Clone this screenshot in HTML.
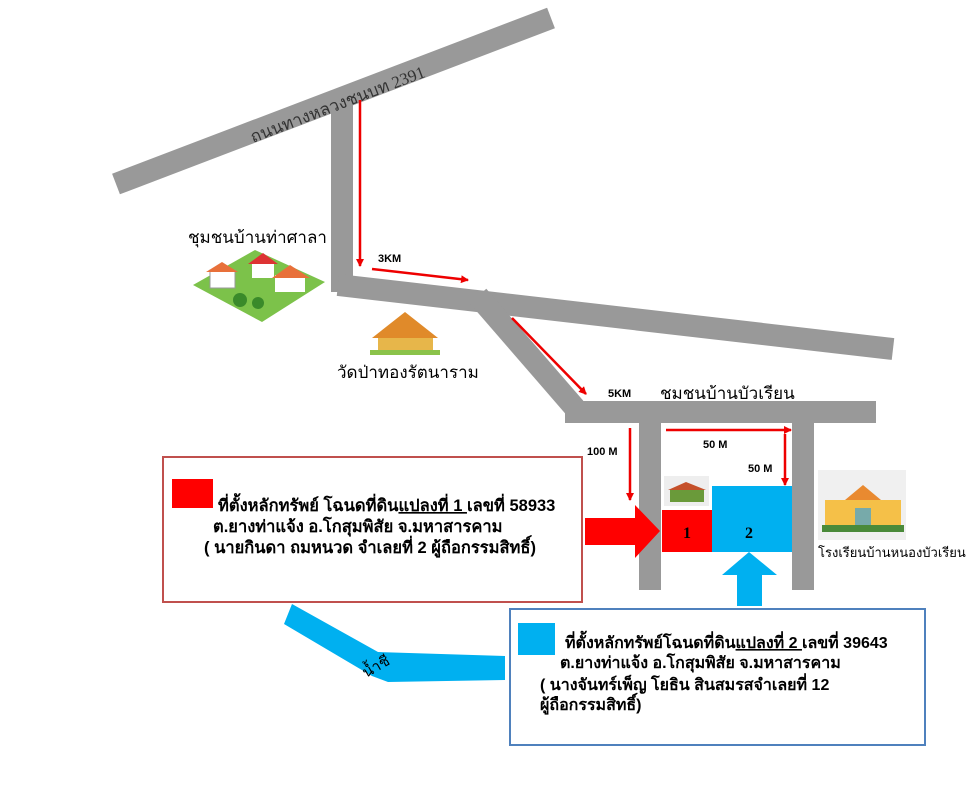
<!DOCTYPE html><html><head><meta charset="utf-8"><style>body{margin:0;background:#fff}svg{display:block;font-family:"Liberation Sans","DejaVu Sans",sans-serif}</style></head><body>
<svg width="975" height="800" viewBox="0 0 975 800">
<g stroke="#999" stroke-width="22" fill="none" stroke-linecap="butt">
<line x1="116" y1="184" x2="551" y2="18"/>
<line x1="342" y1="97" x2="342" y2="292"/>
<line x1="338" y1="285" x2="893" y2="349"/>
<line x1="478" y1="296" x2="575" y2="408"/>
<line x1="565" y1="412" x2="876" y2="412"/>
<line x1="650" y1="412" x2="650" y2="590"/>
<line x1="803" y1="412" x2="803" y2="590"/>
</g>
<text x="0" y="0" transform="translate(253,143) rotate(-21)" font-family="Liberation Serif,serif" font-size="17" fill="#333">ถนนทางหลวงชนบท 2391</text>
<defs><marker id="a" markerWidth="8" markerHeight="8" refX="7" refY="4" orient="auto" markerUnits="userSpaceOnUse"><path d="M0,0L8,4L0,8z" fill="#e00"/></marker></defs>
<g stroke="#e00" stroke-width="2.5" marker-end="url(#a)">
<line x1="360" y1="100" x2="360" y2="266"/>
<line x1="372" y1="269" x2="468" y2="280"/>
<line x1="512" y1="318" x2="586" y2="394"/>
<line x1="630" y1="428" x2="630" y2="500"/>
<line x1="666" y1="430" x2="791" y2="430"/>
<line x1="785" y1="434" x2="785" y2="485"/>
</g>
<g font-size="11" font-weight="bold" fill="#000">
<text x="378" y="262">3KM</text><text x="608" y="397">5KM</text><text x="587" y="455">100 M</text><text x="703" y="448">50 M</text><text x="748" y="472">50 M</text></g>
<text x="660" y="399" font-size="17" fill="#000">ชมชนบ้านบัวเรียน</text>
<text x="188" y="243" font-size="17" fill="#000">ชุมชนบ้านท่าศาลา</text>
<text x="337" y="378" font-size="17" fill="#000">วัดป่าทองรัตนาราม</text>
<text x="818" y="557" font-size="13" fill="#000">โรงเรียนบ้านหนองบัวเรียน</text>
<polygon points="193,285 255,250 325,282 262,322" fill="#7cc24a"/>
<rect x="210" y="270" width="25" height="18" fill="#fff" stroke="#999"/><polygon points="206,272 222,262 238,272" fill="#e8703a"/>
<rect x="252" y="262" width="22" height="16" fill="#fff"/><polygon points="248,264 263,253 278,264" fill="#d33"/>
<rect x="275" y="275" width="30" height="17" fill="#fff"/><polygon points="272,278 290,265 310,278" fill="#e8703a"/>
<circle cx="240" cy="300" r="7" fill="#3a8a2a"/><circle cx="258" cy="303" r="6" fill="#3a8a2a"/>
<rect x="378" y="335" width="55" height="18" fill="#e7b64a"/><polygon points="372,338 405,312 438,338" fill="#e08a2a"/><rect x="370" y="350" width="70" height="5" fill="#8bc34a"/>
<rect x="664" y="476" width="45" height="30" fill="#eee"/><polygon points="668,490 686,482 706,490" fill="#c5502a"/><rect x="670" y="490" width="34" height="12" fill="#6a9a3a"/>
<rect x="818" y="470" width="88" height="70" fill="#f0f0f0"/><rect x="825" y="500" width="76" height="25" fill="#f5c048"/><polygon points="845,500 863,485 881,500" fill="#e98a30"/><rect x="855" y="508" width="16" height="17" fill="#7aa"/><rect x="822" y="525" width="82" height="7" fill="#4a8a3a"/>
<rect x="662" y="510" width="50" height="42" fill="#f00"/>
<rect x="712" y="486" width="80" height="66" fill="#00b0f0"/>
<g font-family="Liberation Serif,serif" font-weight="bold" font-size="16"><text x="683" y="538">1</text><text x="745" y="538">2</text></g>
<polygon points="585,518 635,518 635,505 660,531 635,558 635,545 585,545" fill="#f00"/>
<polygon points="737,606 762,606 762,575 777,575 749,552 722,575 737,575" fill="#00b0f0"/>
<polygon points="292,604 378,652 505,656 505,680 388,682 372,676 284,624" fill="#00b0f0"/>
<text transform="translate(366,678) rotate(-30)" font-size="15" fill="#000">น้ำชี</text>
<rect x="163" y="457" width="419" height="145" fill="none" stroke="#c0504d" stroke-width="2"/>
<rect x="172" y="479" width="41" height="29" fill="#f00"/>
<g font-size="16.5" font-weight="bold" fill="#000">
<text x="218" y="511">ที่ตั้งหลักทรัพย์ โฉนดที่ดิน<tspan text-decoration="underline">แปลงที่ 1 </tspan>เลขที่ 58933</text>
<text x="213" y="532">ต.ยางท่าแจ้ง อ.โกสุมพิสัย  จ.มหาสารคาม</text>
<text x="204" y="553">( นายกินดา  ถมหนวด จำเลยที่ 2 ผู้ถือกรรมสิทธิ์)</text></g>
<rect x="510" y="609" width="415" height="136" fill="none" stroke="#4f81bd" stroke-width="2"/>
<rect x="518" y="623" width="37" height="32" fill="#00b0f0"/>
<g font-size="16" font-weight="bold" fill="#000">
<text x="565" y="648">ที่ตั้งหลักทรัพย์โฉนดที่ดิน<tspan text-decoration="underline">แปลงที่ 2 </tspan>เลขที่ 39643</text>
<text x="560" y="668">ต.ยางท่าแจ้ง อ.โกสุมพิสัย  จ.มหาสารคาม</text>
<text x="540" y="690">( นางจันทร์เพ็ญ โยธิน สินสมรสจำเลยที่ 12</text>
<text x="540" y="710">ผู้ถือกรรมสิทธิ์)</text></g>
</svg></body></html>
